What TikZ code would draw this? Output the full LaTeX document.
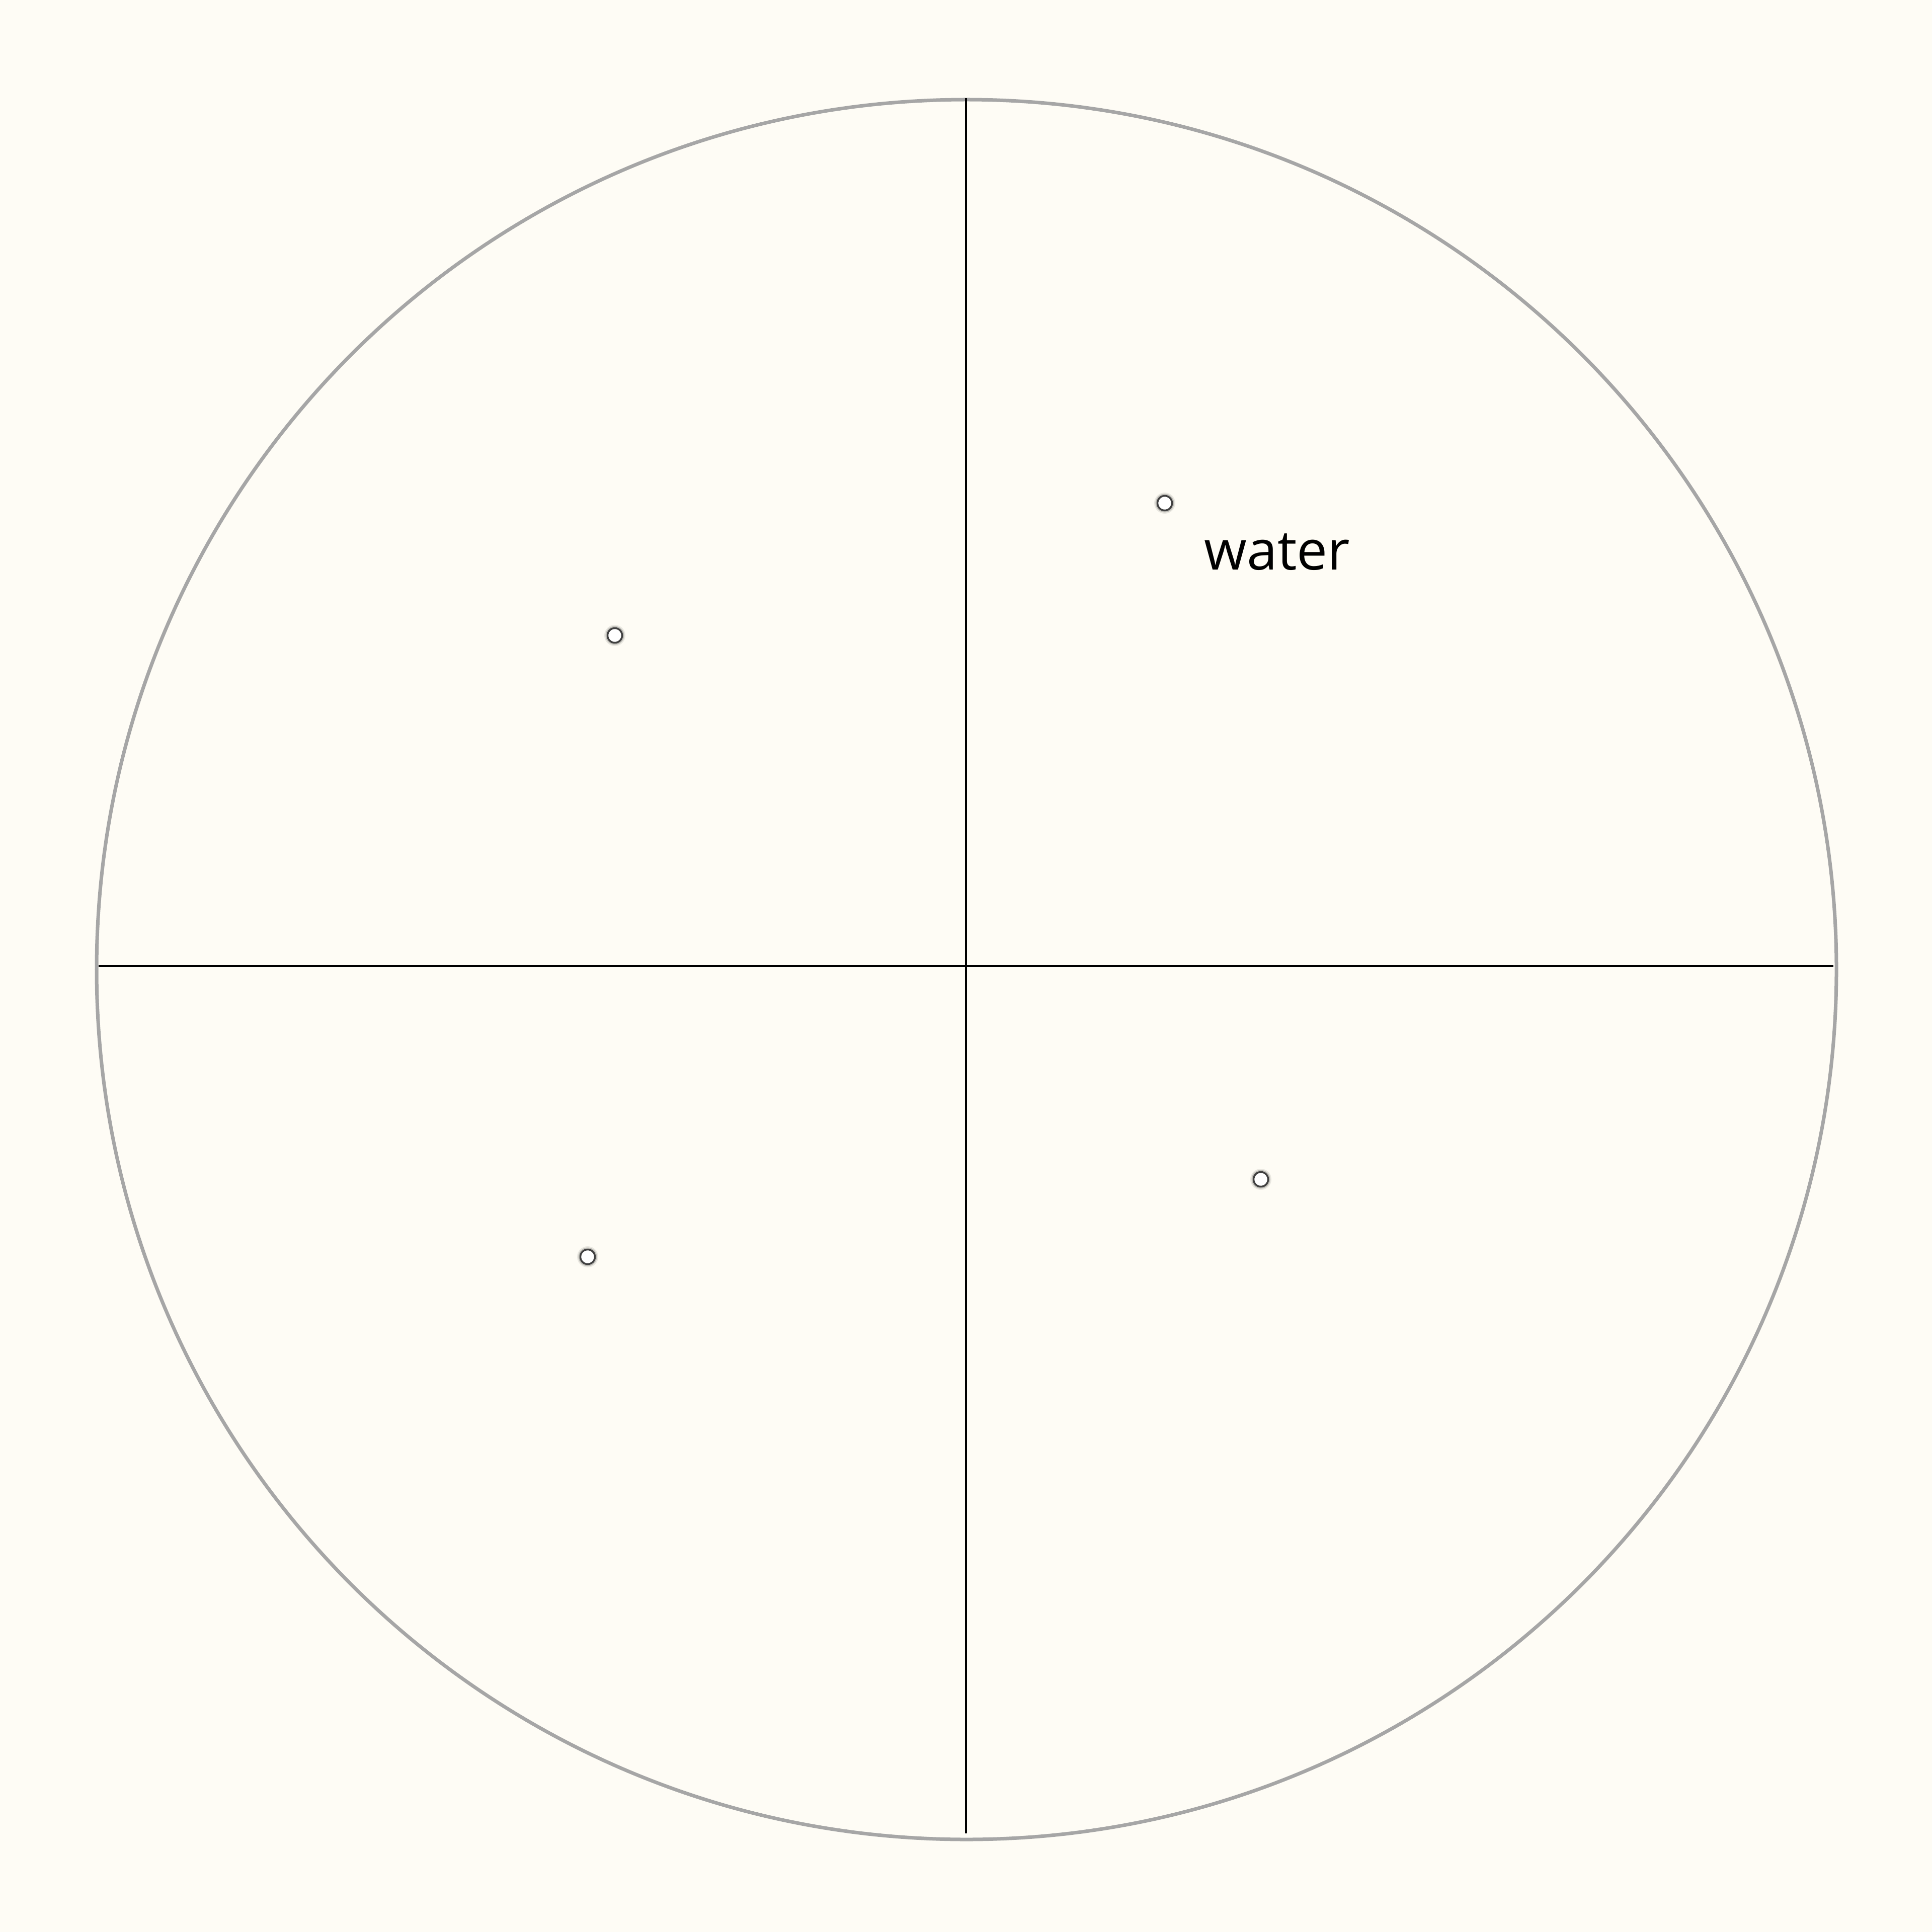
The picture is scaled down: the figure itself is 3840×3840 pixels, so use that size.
\documentclass[tikz,border=0pt]{standalone}
\usepackage{fontspec}
\setmainfont{Open Sans}
\definecolor{bg}{HTML}{FEFCF5}
\definecolor{rim}{HTML}{A6A6A6}
\tikzset{
  rimline/.style={draw=rim, line width=0.07cm},
  axis/.style={draw=black, line width=0.04cm},
  dot/.style={circle, fill=white, draw=black!75, line width=0.035cm, minimum size=0.29cm, inner sep=0pt},
  haloA/.style={circle, fill=black, minimum size=0.42cm, inner sep=0pt, opacity=0.08},
  haloB/.style={circle, fill=black, minimum size=0.37cm, inner sep=0pt, opacity=0.18},
  lbl/.style={anchor=base west, inner sep=0pt, font=\fontsize{31pt}{36pt}\selectfont}
}
\begin{document}
\begin{tikzpicture}[x=0.01cm, y=-0.01cm]
\fill[bg] (0,0) rectangle (3840,3840);
\useasboundingbox (0,0) rectangle (3840,3840);
\node[circle, minimum size=34.56cm, inner sep=0pt, rimline] (rim) at (1921,1927) {};
\coordinate (top) at (1920,195);
\coordinate (bot) at (1920,3644);
\coordinate (lft) at (196,1920);
\coordinate (rgt) at (3644,1920);
\draw[axis] (top) -- (bot);
\draw[axis] (lft) -- (rgt);
\foreach \n/\p in {d1/{(2315,1000)}, d2/{(1222,1263)}, d3/{(1168,2498)}, d4/{(2506,2344)}} {
  \node[haloA] at \p {};
  \node[haloB] at \p {};
  \node[dot] (\n) at \p {};
}
\node[lbl] (water) at (2393,1132) {water};
\end{tikzpicture}
\end{document}
